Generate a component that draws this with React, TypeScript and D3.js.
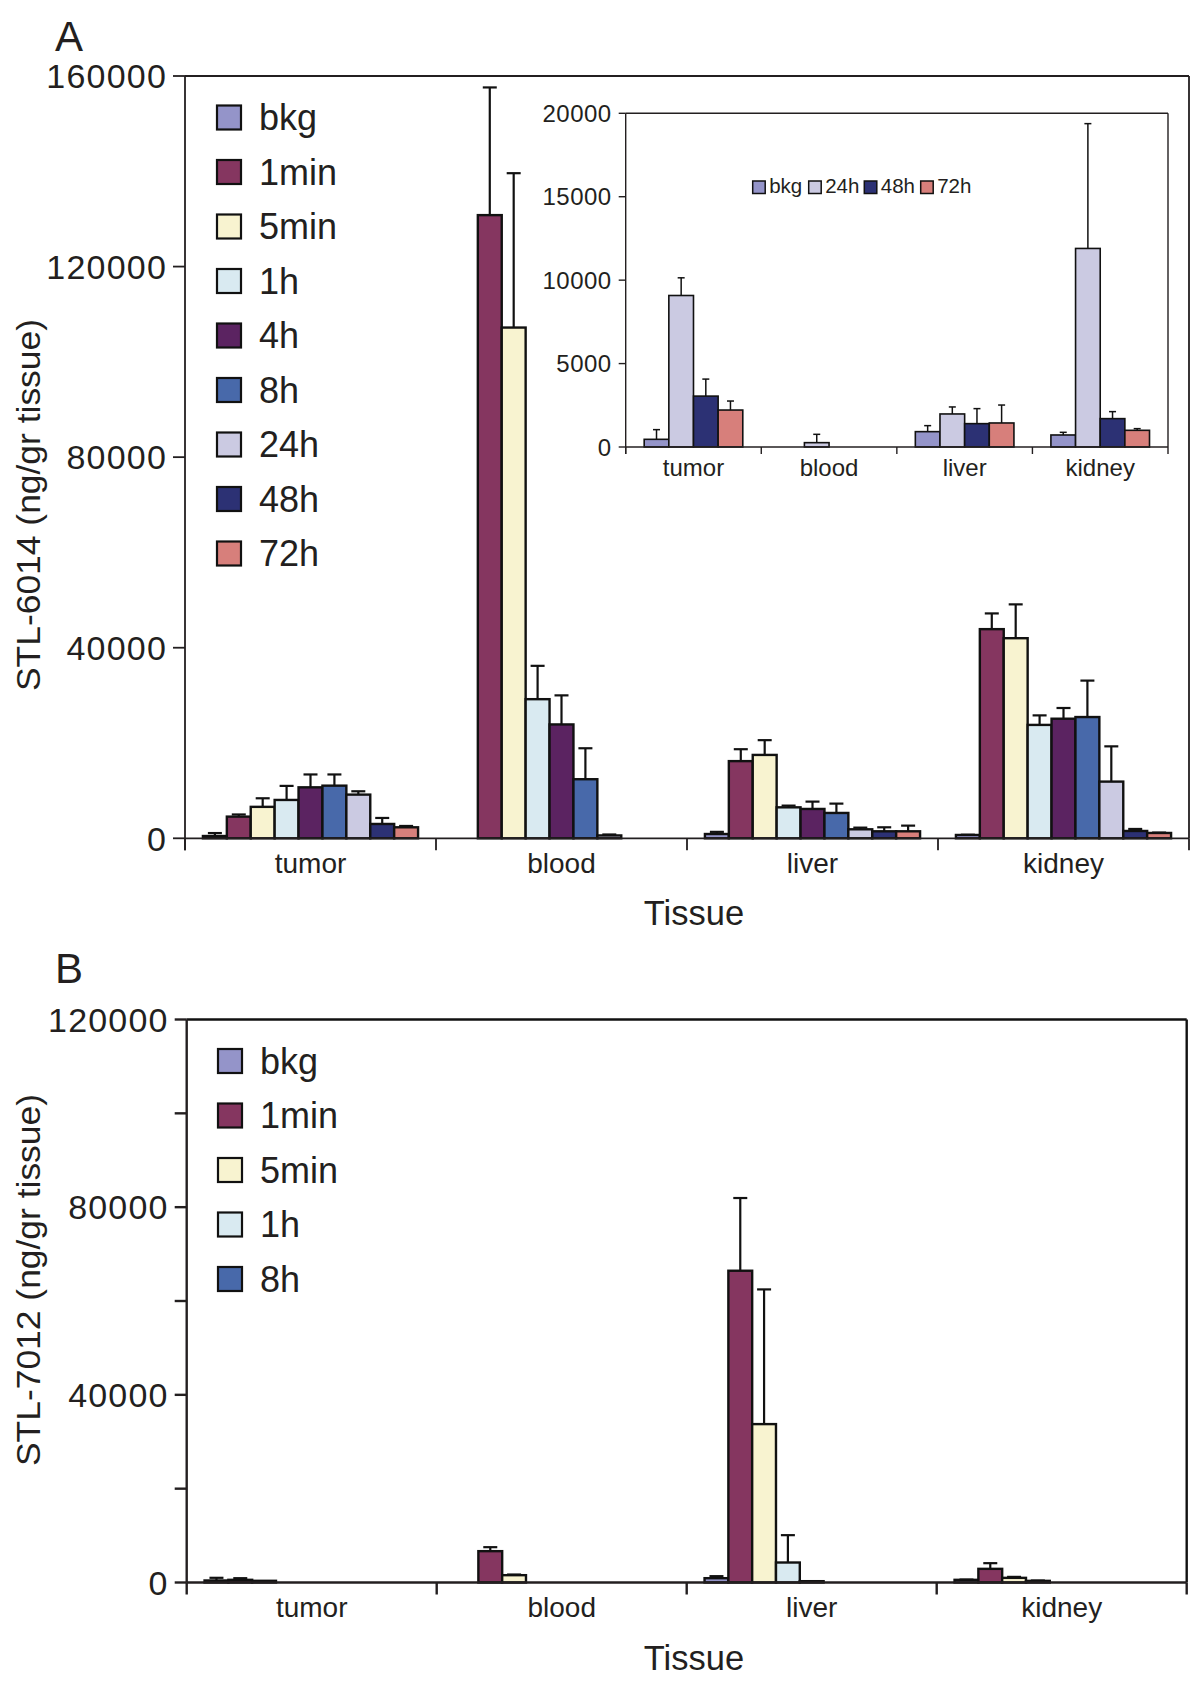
import React from "react";
import * as d3 from "d3";

// ---------- DATA ----------
const categories = ["tumor", "blood", "liver", "kidney"];

// Panel A (STL-6014)
const seriesA = ["bkg", "1min", "5min", "1h", "4h", "8h", "24h", "48h", "72h"];
// per series: values for [tumor, blood, liver, kidney]
const meanA = [
  [480, 0, 900, 700],
  [4550, 130800, 16200, 43900],
  [6600, 107200, 17500, 42000],
  [8050, 29200, 6500, 23800],
  [10700, 23900, 6160, 25100],
  [11050, 12400, 5320, 25450],
  [9170, 600, 1890, 11900],
  [3010, 0, 1470, 1540],
  [2310, 0, 1470, 1120],
];
const upperA = [
  [1100, 0, 1350, 750],
  [5000, 157600, 18700, 47200],
  [8400, 139600, 20600, 49100],
  [11000, 36200, 6860, 25800],
  [13400, 30000, 7700, 27350],
  [13400, 18900, 7280, 33100],
  [9870, 800, 2240, 19300],
  [4270, 0, 2310, 1960],
  [2590, 0, 2660, 1200],
];
const ticksA = [0, 40000, 80000, 120000, 160000];

// Inset of panel A
const seriesInset = ["bkg", "24h", "48h", "72h"];
const meanInset = [
  [460, 0, 920, 720],
  [9080, 260, 1980, 11900],
  [3050, 0, 1400, 1700],
  [2215, 0, 1440, 1000],
];
const upperInset = [
  [1040, 0, 1280, 880],
  [10140, 760, 2400, 19380],
  [4070, 0, 2300, 2120],
  [2755, 0, 2515, 1100],
];
const ticksInset = [0, 5000, 10000, 15000, 20000];

// Panel B (STL-7012)
const seriesB = ["bkg", "1min", "5min", "1h", "8h"];
const meanB = [
  [430, 0, 920, 570],
  [570, 6680, 66450, 2910],
  [360, 1560, 33760, 990],
  [0, 0, 4260, 350],
  [0, 0, 280, 0],
];
const upperB = [
  [1000, 0, 1350, 620],
  [920, 7530, 81950, 4120],
  [360, 1700, 62470, 1200],
  [0, 0, 10090, 420],
  [0, 0, 280, 0],
];
const ticksB = [0, 20000, 40000, 60000, 80000, 100000, 120000];
const labeledTicksB = [0, 40000, 80000, 120000];

const colorOf: Record<string, string> = {
  bkg: "#9494c9",
  "1min": "#853660",
  "5min": "#f8f3d0",
  "1h": "#d9eaf1",
  "4h": "#5b2361",
  "8h": "#4869aa",
  "24h": "#cbcae2",
  "48h": "#2c3174",
  "72h": "#d77f7b",
};

const FONT = "'Liberation Sans', Arial, Helvetica, sans-serif";
const INK = "#231f20";

type PanelProps = {
  xRange: [number, number];
  yScale: d3.ScaleLinear<number, number>;
  series: string[];
  means: number[][];
  uppers: number[][];
  slots: number;
  barStroke: number;
  errStroke: number;
  capW: number;
};

function Bars(p: PanelProps) {
  const x0 = d3.scaleBand<string>().domain(categories).range(p.xRange).paddingInner(0).paddingOuter(0);
  const x1 = d3
    .scaleBand<number>()
    .domain(d3.range(p.slots))
    .range([0, x0.bandwidth()])
    .paddingInner(0)
    .paddingOuter(0.75);
  const y = p.yScale;
  const els: React.ReactNode[] = [];
  const errs: React.ReactNode[] = [];
  categories.forEach((c, ci) => {
    p.series.forEach((s, si) => {
      const m = p.means[si][ci];
      const u = p.uppers[si][ci];
      const bx = (x0(c) as number) + (x1(si) as number);
      const bw = x1.bandwidth();
      els.push(
        <rect
          key={`b-${c}-${s}`}
          x={bx}
          y={y(m)}
          width={bw}
          height={y(0) - y(m)}
          fill={colorOf[s]}
          stroke="#111"
          strokeWidth={p.barStroke}
        />
      );
      if (u > m) {
        const cx = bx + bw / 2;
        errs.push(
          <g key={`e-${c}-${s}`} stroke="#111" strokeWidth={p.errStroke}>
            <line x1={cx} x2={cx} y1={y(m)} y2={y(u)} />
            <line x1={cx - p.capW / 2} x2={cx + p.capW / 2} y1={y(u)} y2={y(u)} />
          </g>
        );
      }
    });
  });
  return (
    <g>
      {els}
      {errs}
    </g>
  );
}

function CategoryAxis({
  xRange,
  y0,
  tickLen,
  labelY,
  fontSize,
  stroke,
}: {
  xRange: [number, number];
  y0: number;
  tickLen: number;
  labelY: number;
  fontSize: number;
  stroke: number;
}) {
  const x0 = d3.scaleBand<string>().domain(categories).range(xRange).paddingInner(0).paddingOuter(0);
  const bounds = [...categories.map((c) => x0(c) as number), xRange[1]];
  return (
    <g>
      <line x1={xRange[0]} x2={xRange[1]} y1={y0} y2={y0} stroke={INK} strokeWidth={stroke} />
      {bounds.map((b, i) => (
        <line key={i} x1={b} x2={b} y1={y0} y2={y0 + tickLen} stroke={INK} strokeWidth={stroke} />
      ))}
      {categories.map((c) => (
        <text
          key={c}
          x={(x0(c) as number) + x0.bandwidth() / 2}
          y={labelY}
          textAnchor="middle"
          fontSize={fontSize}
          fill={INK}
          fontFamily={FONT}
        >
          {c}
        </text>
      ))}
    </g>
  );
}

function ValueAxis({
  x,
  yScale,
  ticks,
  labeled,
  tickLen,
  fontSize,
  stroke,
  gap,
  spacing,
}: {
  x: number;
  yScale: d3.ScaleLinear<number, number>;
  ticks: number[];
  labeled: number[];
  tickLen: number;
  fontSize: number;
  stroke: number;
  gap: number;
  spacing: number;
}) {
  const [d0, d1] = yScale.domain();
  return (
    <g>
      <line x1={x} x2={x} y1={yScale(d0)} y2={yScale(d1)} stroke={INK} strokeWidth={stroke} />
      {ticks.map((t) => (
        <line key={t} x1={x - tickLen} x2={x} y1={yScale(t)} y2={yScale(t)} stroke={INK} strokeWidth={stroke} />
      ))}
      {labeled.map((t) => (
        <text
          key={`l${t}`}
          x={x - tickLen - gap}
          y={yScale(t)}
          dy="0.36em"
          textAnchor="end"
          fontSize={fontSize}
          fill={INK}
          fontFamily={FONT}
          letterSpacing={spacing}
        >
          {t}
        </text>
      ))}
    </g>
  );
}

function Legend({
  series,
  x,
  y,
  step,
  size,
  fontSize,
}: {
  series: string[];
  x: number;
  y: number;
  step: number;
  size: number;
  fontSize: number;
}) {
  return (
    <g>
      {series.map((s, i) => (
        <g key={s} transform={`translate(${x},${y + i * step})`}>
          <rect x={0} y={-size / 2} width={size} height={size} fill={colorOf[s]} stroke="#111" strokeWidth={2.2} />
          <text x={size + 18} y={0} dy="0.36em" fontSize={fontSize} fill={INK} fontFamily={FONT}>
            {s}
          </text>
        </g>
      ))}
    </g>
  );
}

export default function App() {
  // Panel A geometry
  const axL = 185,
    axR = 1189,
    aTop = 76,
    aBase = 838.3;
  const yA = d3.scaleLinear().domain([0, 160000]).range([aBase, aTop]);

  // Inset geometry
  const inL = 625.7,
    inR = 1168,
    inTop = 113.3,
    inBase = 447;
  const yIn = d3.scaleLinear().domain([0, 20000]).range([inBase, inTop]);

  // Panel B geometry
  const bL = 186.7,
    bR = 1186.7,
    bTop = 1019.5,
    bBase = 1582.5;
  const yB = d3.scaleLinear().domain([0, 120000]).range([bBase, bTop]);

  const insetLegendX = [752.7, 808.7, 864.3, 920.7];

  return (
    <div style={{ position: "absolute", left: 0, top: 0 }}>
      <svg width={1200} height={1686} style={{ display: "block", background: "#fff" }}>
        <rect x={0} y={0} width={1200} height={1686} fill="#fff" />

        {/* ---------- Panel A ---------- */}
        <text x={55} y={51} fontSize={42} fill={INK} fontFamily={FONT}>
          A
        </text>
        <Bars
          xRange={[axL, axR]}
          yScale={yA}
          series={seriesA}
          means={meanA}
          uppers={upperA}
          slots={9}
          barStroke={2.4}
          errStroke={2.2}
          capW={14}
        />
        {/* frame */}
        <line x1={axL} x2={axR} y1={aTop} y2={aTop} stroke={INK} strokeWidth={1.8} />
        <line x1={axR} x2={axR} y1={aTop} y2={aBase} stroke={INK} strokeWidth={1.8} />
        <CategoryAxis xRange={[axL, axR]} y0={aBase} tickLen={12} labelY={872.7} fontSize={28} stroke={1.8} />
        <line x1={axL} x2={axL} y1={aBase} y2={aBase + 12} stroke={INK} strokeWidth={1.8} />
        <ValueAxis
          x={axL}
          yScale={yA}
          ticks={ticksA}
          labeled={ticksA}
          tickLen={12}
          fontSize={34}
          stroke={1.8}
          gap={6}
          spacing={1.2}
        />
        <text
          transform={`translate(40,505) rotate(-90)`}
          textAnchor="middle"
          fontSize={34}
          fill={INK}
          fontFamily={FONT}
          textLength={372}
          lengthAdjust="spacingAndGlyphs"
        >
          STL-6014 (ng/gr tissue)
        </text>
        <text x={694} y={925} textAnchor="middle" fontSize={34.5} fill={INK} fontFamily={FONT}>
          Tissue
        </text>
        <Legend series={seriesA} x={217} y={117.5} step={54.5} size={24} fontSize={36} />

        {/* ---------- Inset ---------- */}
        <Bars
          xRange={[inL, inR]}
          yScale={yIn}
          series={seriesInset}
          means={meanInset}
          uppers={upperInset}
          slots={4}
          barStroke={1.6}
          errStroke={1.5}
          capW={7}
        />
        <line x1={inL} x2={inR} y1={inTop} y2={inTop} stroke={INK} strokeWidth={1.4} />
        <line x1={inR} x2={inR} y1={inTop} y2={inBase} stroke={INK} strokeWidth={1.4} />
        <CategoryAxis xRange={[inL, inR]} y0={inBase} tickLen={7} labelY={476} fontSize={24} stroke={1.4} />
        <ValueAxis
          x={inL}
          yScale={yIn}
          ticks={ticksInset}
          labeled={ticksInset}
          tickLen={7}
          fontSize={24}
          stroke={1.4}
          gap={7}
          spacing={0.5}
        />
        <line x1={inL} x2={inL} y1={inBase} y2={inBase + 7} stroke={INK} strokeWidth={1.4} />
        {seriesInset.map((s, i) => (
          <g key={`il-${s}`}>
            <rect
              x={insetLegendX[i]}
              y={181}
              width={12.5}
              height={12.5}
              fill={colorOf[s]}
              stroke="#111"
              strokeWidth={1.5}
            />
            <text x={insetLegendX[i] + 16.5} y={192.5} fontSize={20.5} fill={INK} fontFamily={FONT}>
              {s}
            </text>
          </g>
        ))}

        {/* ---------- Panel B ---------- */}
        <text x={55} y={983} fontSize={42} fill={INK} fontFamily={FONT}>
          B
        </text>
        <Bars
          xRange={[bL, bR]}
          yScale={yB}
          series={seriesB}
          means={meanB}
          uppers={upperB}
          slots={9}
          barStroke={2.4}
          errStroke={2.2}
          capW={14}
        />
        <line x1={bL} x2={bR} y1={bTop} y2={bTop} stroke="#111" strokeWidth={2.4} />
        <line x1={bR} x2={bR} y1={bTop} y2={bBase} stroke="#111" strokeWidth={2.4} />
        <CategoryAxis xRange={[bL, bR]} y0={bBase} tickLen={12} labelY={1617} fontSize={28} stroke={2.4} />
        <ValueAxis
          x={bL}
          yScale={yB}
          ticks={ticksB}
          labeled={labeledTicksB}
          tickLen={12}
          fontSize={34}
          stroke={2.4}
          gap={6}
          spacing={1.2}
        />
        <text
          transform={`translate(40,1280) rotate(-90)`}
          textAnchor="middle"
          fontSize={34}
          fill={INK}
          fontFamily={FONT}
          textLength={372}
          lengthAdjust="spacingAndGlyphs"
        >
          STL-7012 (ng/gr tissue)
        </text>
        <text x={694} y={1670} textAnchor="middle" fontSize={34.5} fill={INK} fontFamily={FONT}>
          Tissue
        </text>
        <Legend series={seriesB} x={218} y={1061} step={54.5} size={24} fontSize={36} />
      </svg>
    </div>
  );
}
